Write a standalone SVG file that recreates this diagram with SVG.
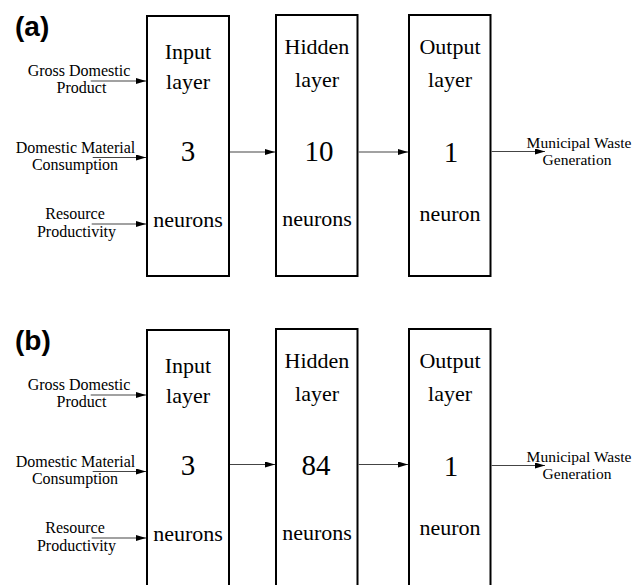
<svg xmlns="http://www.w3.org/2000/svg" width="638" height="585" viewBox="0 0 638 585">
<defs>
<style>
.box{fill:#fff;stroke:#000;stroke-width:2}
.t{font-family:'Liberation Serif','DejaVu Serif','Times New Roman',Times,serif;fill:#000;text-anchor:middle}
.lay{font-size:22px}
.num{font-size:29px}
.lbl{font-size:16px}
.out{font-size:15.5px}
.pan{font-family:'Liberation Sans',Arial,sans-serif;font-weight:bold;font-size:28px;fill:#000}
.ln{stroke:#444;stroke-width:1.2;fill:none;marker-end:url(#ah)}
</style>
<marker id="ah" markerUnits="userSpaceOnUse" markerWidth="11" markerHeight="6" refX="10" refY="3" orient="auto">
<path d="M0,0 L10,3 L0,6 Z" fill="#000"/>
</marker>
</defs>

<!-- Panel (a) -->
<g id="panel-a">
<text class="pan" x="15" y="36">(a)</text>
<g id="a-input">
<rect class="box" x="147" y="16" width="82" height="260"/>
<text class="t lay" x="188" y="59" font-family="Liberation Serif, serif">Input</text>
<text class="t lay" x="188" y="89" font-family="Liberation Serif, serif">layer</text>
<text class="t num" x="188" y="161" font-family="Liberation Serif, serif">3</text>
<text class="t lay" x="188" y="227" font-family="Liberation Serif, serif">neurons</text>
</g>
<g id="a-hidden">
<rect class="box" x="276" y="15" width="81.5" height="261"/>
<text class="t lay" x="317" y="54" font-family="Liberation Serif, serif">Hidden</text>
<text class="t lay" x="317" y="87" font-family="Liberation Serif, serif">layer</text>
<text class="t num" x="319" y="161" font-family="Liberation Serif, serif">10</text>
<text class="t lay" x="317" y="226" font-family="Liberation Serif, serif">neurons</text>
</g>
<g id="a-output">
<rect class="box" x="409" y="15" width="81.5" height="261"/>
<text class="t lay" x="450" y="53.5" font-family="Liberation Serif, serif">Output</text>
<text class="t lay" x="450" y="87" font-family="Liberation Serif, serif">layer</text>
<text class="t num" x="451" y="162" font-family="Liberation Serif, serif">1</text>
<text class="t lay" x="450" y="220.5" font-family="Liberation Serif, serif">neuron</text>
</g>
<g id="a-inputs-labels" font-family="Liberation Serif, serif">
<text class="t lbl" x="79" y="76" font-family="Liberation Serif, serif">Gross Domestic</text>
<text class="t lbl" x="81.5" y="93" font-family="Liberation Serif, serif">Product</text>
<text class="t lbl" x="75.5" y="153" font-family="Liberation Serif, serif">Domestic Material</text>
<text class="t lbl" x="75" y="170" font-family="Liberation Serif, serif">Consumption</text>
<text class="t lbl" x="75" y="219" font-family="Liberation Serif, serif">Resource</text>
<text class="t lbl" x="76.5" y="236.5" font-family="Liberation Serif, serif">Productivity</text>
</g>
<g id="a-output-label">
<text class="t out" x="579" y="147.5" font-family="Liberation Serif, serif">Municipal Waste</text>
<text class="t out" x="577" y="164.5" font-family="Liberation Serif, serif">Generation</text>
</g>
<g id="a-connectors">
<line class="ln" x1="90.7" y1="81" x2="146" y2="81"/>
<line class="ln" x1="92.7" y1="157.5" x2="146" y2="157.5"/>
<line class="ln" x1="91.7" y1="224" x2="146" y2="224"/>
<line class="ln" x1="230" y1="152" x2="275" y2="152"/>
<line class="ln" x1="358.5" y1="152" x2="408" y2="152"/>
<line class="ln" x1="491.5" y1="151.5" x2="545" y2="151.5"/>
</g>
</g>

<!-- Panel (b) -->
<g id="panel-b">
<text class="pan" x="15" y="350">(b)</text>
<g id="b-input">
<rect class="box" x="147" y="330" width="82" height="270"/>
<text class="t lay" x="188" y="373" font-family="Liberation Serif, serif">Input</text>
<text class="t lay" x="188" y="403" font-family="Liberation Serif, serif">layer</text>
<text class="t num" x="188" y="475" font-family="Liberation Serif, serif">3</text>
<text class="t lay" x="188" y="541" font-family="Liberation Serif, serif">neurons</text>
</g>
<g id="b-hidden">
<rect class="box" x="276" y="329" width="81.5" height="270"/>
<text class="t lay" x="317" y="368" font-family="Liberation Serif, serif">Hidden</text>
<text class="t lay" x="317" y="401" font-family="Liberation Serif, serif">layer</text>
<text class="t num" x="316" y="475" font-family="Liberation Serif, serif">84</text>
<text class="t lay" x="317" y="540" font-family="Liberation Serif, serif">neurons</text>
</g>
<g id="b-output">
<rect class="box" x="409" y="329" width="81.5" height="270"/>
<text class="t lay" x="450" y="367.5" font-family="Liberation Serif, serif">Output</text>
<text class="t lay" x="450" y="401" font-family="Liberation Serif, serif">layer</text>
<text class="t num" x="451" y="476" font-family="Liberation Serif, serif">1</text>
<text class="t lay" x="450" y="534.5" font-family="Liberation Serif, serif">neuron</text>
</g>
<g id="b-inputs-labels">
<text class="t lbl" x="79" y="390" font-family="Liberation Serif, serif">Gross Domestic</text>
<text class="t lbl" x="81.5" y="407" font-family="Liberation Serif, serif">Product</text>
<text class="t lbl" x="75.5" y="467" font-family="Liberation Serif, serif">Domestic Material</text>
<text class="t lbl" x="75" y="484" font-family="Liberation Serif, serif">Consumption</text>
<text class="t lbl" x="75" y="533" font-family="Liberation Serif, serif">Resource</text>
<text class="t lbl" x="76.5" y="550.5" font-family="Liberation Serif, serif">Productivity</text>
</g>
<g id="b-output-label">
<text class="t out" x="579" y="461.5" font-family="Liberation Serif, serif">Municipal Waste</text>
<text class="t out" x="577" y="478.5" font-family="Liberation Serif, serif">Generation</text>
</g>
<g id="b-connectors">
<line class="ln" x1="90.7" y1="395" x2="146" y2="395"/>
<line class="ln" x1="92.7" y1="471.5" x2="146" y2="471.5"/>
<line class="ln" x1="91.7" y1="538" x2="146" y2="538"/>
<line class="ln" x1="230" y1="464.5" x2="275" y2="464.5"/>
<line class="ln" x1="358.5" y1="464.5" x2="408" y2="464.5"/>
<line class="ln" x1="491.5" y1="465.5" x2="545" y2="465.5"/>
</g>
</g>
</svg>
